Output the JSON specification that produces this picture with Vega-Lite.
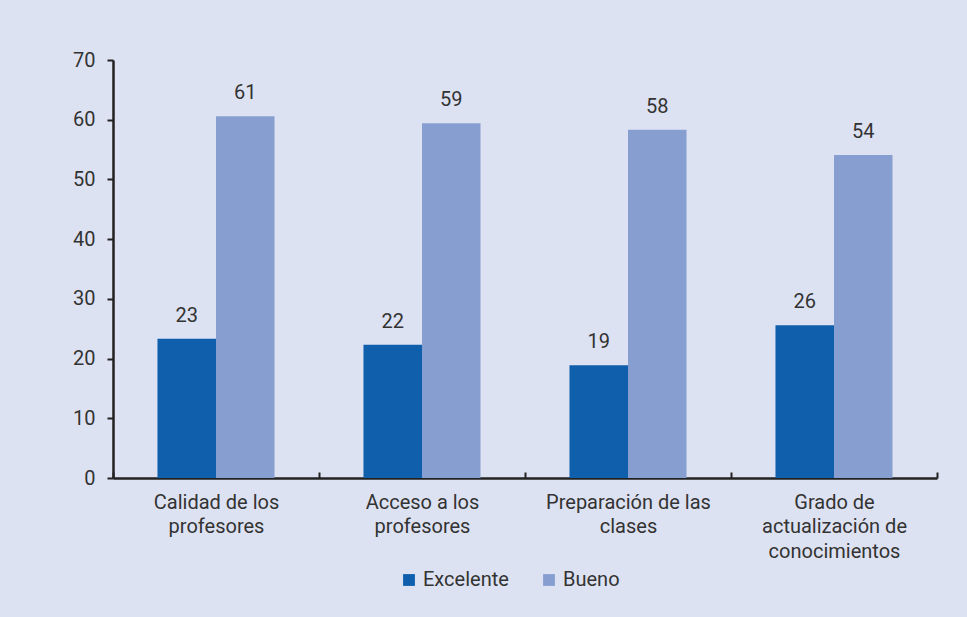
{
  "$schema": "https://vega.github.io/schema/vega-lite/v6.json",
  "autosize": "none",
  "width": 824,
  "height": 418,
  "padding": {"left": 113, "top": 60, "right": 30, "bottom": 139},
  "background": "#dde2f2",
  "config": {
    "view": {"stroke": null},
    "font": "Roboto",
    "text": {"font": "Roboto"}
  },
  "data": {
    "values": [
      {"categoria": "Calidad de los|profesores", "serie": "Excelente", "valor": 23.3},
      {"categoria": "Calidad de los|profesores", "serie": "Bueno", "valor": 60.6},
      {"categoria": "Acceso a los|profesores", "serie": "Excelente", "valor": 22.3},
      {"categoria": "Acceso a los|profesores", "serie": "Bueno", "valor": 59.4},
      {"categoria": "Preparación de las|clases", "serie": "Excelente", "valor": 18.9},
      {"categoria": "Preparación de las|clases", "serie": "Bueno", "valor": 58.3},
      {"categoria": "Grado de|actualización de|conocimientos", "serie": "Excelente", "valor": 25.6},
      {"categoria": "Grado de|actualización de|conocimientos", "serie": "Bueno", "valor": 54.1}
    ]
  },
  "encoding": {
    "x": {
      "field": "categoria",
      "type": "nominal",
      "sort": null,
      "scale": {"paddingInner": 0, "paddingOuter": 0},
      "axis": {
        "title": null,
        "labelAngle": 0,
        "labelExpr": "split(datum.label, '|')",
        "labelFontSize": 20,
        "labelColor": "#333333",
        "labelLineHeight": 24.5,
        "labelPadding": 20,
        "tickBand": "extent",
        "tickSize": -6,
        "tickColor": "#222222",
        "tickWidth": 2,
        "domainColor": "#222222",
        "domainWidth": 2.5
      }
    },
    "xOffset": {
      "field": "serie",
      "type": "nominal",
      "sort": ["Excelente", "Bueno"],
      "scale": {"paddingInner": 0, "paddingOuter": 0.76}
    }
  },
  "layer": [
    {
      "mark": {"type": "bar"},
      "encoding": {
        "y": {
          "field": "valor",
          "type": "quantitative",
          "scale": {"domain": [0, 70]},
          "axis": {
            "title": null,
            "values": [0, 10, 20, 30, 40, 50, 60, 70],
            "grid": false,
            "labelFontSize": 20,
            "labelColor": "#333333",
            "labelPadding": 12,
            "tickSize": 6,
            "tickColor": "#222222",
            "tickWidth": 2,
            "domainColor": "#222222",
            "domainWidth": 2.5
          }
        },
        "color": {
          "field": "serie",
          "type": "nominal",
          "sort": ["Excelente", "Bueno"],
          "scale": {"domain": ["Excelente", "Bueno"], "range": ["#0f5fad", "#879fd0"]},
          "legend": {
            "title": null,
            "orient": "none",
            "direction": "horizontal",
            "legendX": 286,
            "legendY": 510,
            "symbolType": "square",
            "symbolSize": 140,
            "symbolOpacity": 1,
            "symbolStrokeWidth": 0,
            "labelFontSize": 20,
            "labelColor": "#333333",
            "labelOffset": 4,
            "columnPadding": 30
          }
        }
      }
    },
    {
      "mark": {"type": "text", "baseline": "bottom", "dy": -13, "fontSize": 20, "color": "#333333"},
      "encoding": {
        "y": {"field": "valor", "type": "quantitative"},
        "text": {"field": "valor", "type": "quantitative", "format": ".0f"}
      }
    }
  ]
}
